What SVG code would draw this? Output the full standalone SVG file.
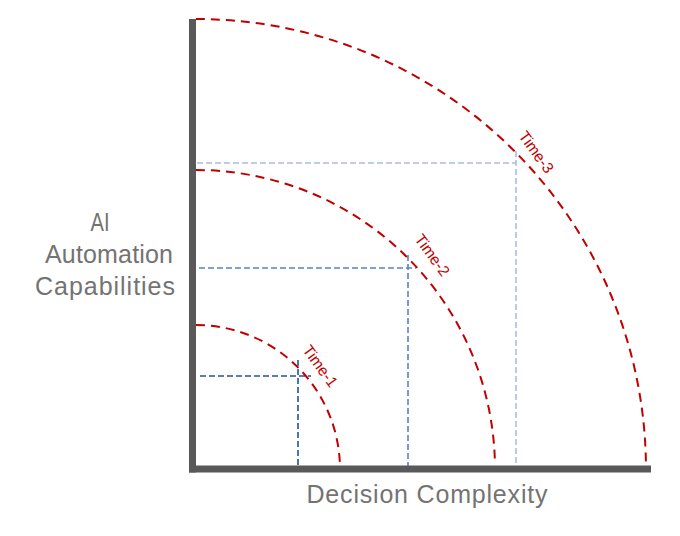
<svg xmlns="http://www.w3.org/2000/svg" width="680" height="536" viewBox="0 0 680 536">
<style>
.arc{fill:none;stroke:#c00000;stroke-width:2;stroke-dasharray:9 6}
.g1{fill:none;stroke:#1f5596;stroke-width:1.6;stroke-dasharray:6 3}
.g2{fill:none;stroke:#5585bf;stroke-width:1.6;stroke-dasharray:6 3}
.g3{fill:none;stroke:#a9c0da;stroke-width:1.6;stroke-dasharray:6 3}
.axis{fill:none;stroke:#595959;stroke-width:7}
.lab{font-family:"Liberation Sans",Arial,sans-serif;font-size:25px;fill:#737373}
.tl{font-family:"Liberation Sans",Arial,sans-serif;font-size:15.5px;fill:#c00000}
</style>
<rect width="680" height="536" fill="#ffffff"/>
<g id="connectors">
<path class="g3" d="M197,163 H516 M516,151 V467"/>
<path class="g2" d="M199,268 H416 M408,255 V467"/>
<path class="g1" d="M200,376 H311 M298,360 V467"/>
<path class="arc" d="M196,19 A450,450 0 0 1 645.9,462"/>
<path class="arc" d="M196,170 A299,299 0 0 1 494.9,462"/>
<path class="arc" d="M196,325 A144,144 0 0 1 339.8,462"/>
</g>
<g id="axes">
<line class="axis" x1="192.5" y1="19" x2="192.5" y2="472.5"/>
<line class="axis" x1="189" y1="469" x2="651" y2="469"/>
</g>
<g id="time-1"><text class="tl" transform="translate(302,350) rotate(54)">Time-1</text></g>
<g id="time-2"><text class="tl" transform="translate(414,239) rotate(54)">Time-2</text></g>
<g id="time-3"><text class="tl" transform="translate(518,136) rotate(54)">Time-3</text></g>
<g id="y-label">
<text class="lab" x="100" y="231" text-anchor="middle" textLength="19" lengthAdjust="spacingAndGlyphs">AI</text>
<text class="lab" x="109" y="263" text-anchor="middle" textLength="128">Automation</text>
<text class="lab" x="105" y="295" text-anchor="middle" textLength="140">Capabilities</text>
</g>
<g id="x-label">
<text class="lab" x="427" y="503" text-anchor="middle" textLength="241">Decision Complexity</text>
</g>
</svg>
